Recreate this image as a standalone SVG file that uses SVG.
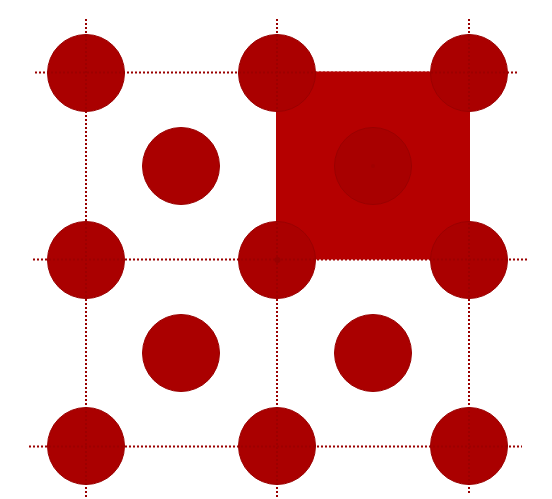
<svg xmlns="http://www.w3.org/2000/svg" xmlns:xlink="http://www.w3.org/1999/xlink" width="552" height="499" viewBox="0 0 552 499">
<style>
.atom{fill:#aa0000;stroke:#9a0000;stroke-width:1}
.grid{stroke:#990000;stroke-width:2;stroke-dasharray:2 2;fill:none}
</style>
<defs>
<clipPath id="atomclip">
<circle cx="86" cy="73" r="38.5"/>
<circle cx="277" cy="73" r="38.5"/>
<circle cx="469" cy="73" r="38.5"/>
<circle cx="86" cy="260" r="38.5"/>
<circle cx="277" cy="260" r="38.5"/>
<circle cx="469" cy="260" r="38.5"/>
<circle cx="86" cy="446" r="38.5"/>
<circle cx="277" cy="446" r="38.5"/>
<circle cx="469" cy="446" r="38.5"/>
</clipPath>
</defs>
<rect width="552" height="499" fill="#ffffff"/>
<g id="connectors">
<line class="grid" x1="35" y1="72.5" x2="519" y2="72.5"/>
<line class="grid" x1="33" y1="259.5" x2="529" y2="259.5"/>
<line class="grid" x1="29" y1="446.5" x2="522" y2="446.5"/>
<line class="grid" x1="86" y1="19" x2="86" y2="497"/>
<line class="grid" x1="277" y1="19" x2="277" y2="497"/>
<line class="grid" x1="469" y1="19" x2="469" y2="494"/>
</g>
<g id="cell"><rect x="276" y="71.5" width="194" height="188" fill="#b50000"/></g>
<g id="atoms">
<circle class="atom" cx="86" cy="73" r="38.5"/>
<circle class="atom" cx="277" cy="73" r="38.5"/>
<circle class="atom" cx="469" cy="73" r="38.5"/>
<circle class="atom" cx="86" cy="260" r="38.5"/>
<circle class="atom" cx="277" cy="260" r="38.5"/>
<circle class="atom" cx="469" cy="260" r="38.5"/>
<circle class="atom" cx="86" cy="446" r="38.5"/>
<circle class="atom" cx="277" cy="446" r="38.5"/>
<circle class="atom" cx="469" cy="446" r="38.5"/>
<circle class="atom" cx="181" cy="166" r="38.5"/>
<circle class="atom" cx="373" cy="166" r="38.5" style="fill:#a80000"/>
<circle class="atom" cx="181" cy="353" r="38.5"/>
<circle class="atom" cx="373" cy="353" r="38.5"/>
</g>
<use xlink:href="#connectors" href="#connectors" clip-path="url(#atomclip)" opacity="0.8"/>
<circle cx="277.5" cy="260" r="3" fill="#990000"/>
<circle cx="373" cy="166" r="2" fill="#990000" opacity="0.5"/>
</svg>
